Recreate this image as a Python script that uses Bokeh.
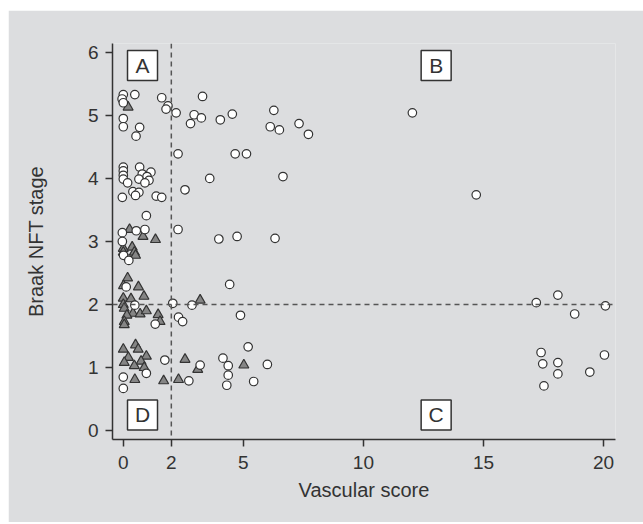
from bokeh.plotting import figure
from bokeh.models import Range1d, Span, FixedTicker
from bokeh.core.properties import value
from bokeh.embed import file_html
from bokeh.resources import INLINE

# Circles (open markers)
circle_x = [0, -0.05, 0.0, 0.48, 1.6, 1.86, 1.78, 2.2, 3.3, 2.95, 3.25, 2.8, 4.04, 4.54,
            6.27, 6.12, 6.5, 7.32, 7.71, 12.04, 0, 0, 0.68, 0.53, 2.28, 4.66, 5.13,
            0, 0, 0, 0, 0.68, 1.15, 0.79, 0.99, 0.65, 1.07, 0.9, 0.18, 0.4, 0.65, 0.51,
            -0.04, 1.37, 1.6, 3.6, 2.57, 6.65, 14.7, 0.96,
            0.54, 0.9, -0.04, 2.28, 3.98, 4.74, 6.32, -0.04, 0.01, 0.23,
            0.12, 0.48, 1.33, 2.06, 2.86, 2.3, 2.47, 4.43, 4.88, 17.2, 18.1, 18.8, 20.08,
            0.96, 0, 0, 1.73, 3.2, 2.73, 5.2, 4.15, 4.37, 6.0, 4.37, 5.43, 4.31,
            17.4, 17.47, 18.1, 18.1, 20.04, 19.43, 17.52]
circle_y = [5.33, 5.26, 5.2, 5.33, 5.28, 5.15, 5.1, 5.04, 5.3, 5.01, 4.96, 4.87, 4.93, 5.02,
            5.08, 4.82, 4.77, 4.87, 4.7, 5.04, 4.95, 4.82, 4.81, 4.67, 4.39, 4.39, 4.39,
            4.18, 4.12, 4.05, 3.99, 4.18, 4.1, 4.07, 4.03, 3.99, 3.97, 3.93, 3.93, 3.79, 3.78, 3.73,
            3.7, 3.72, 3.7, 4.0, 3.82, 4.03, 3.74, 3.41,
            3.17, 3.19, 3.14, 3.19, 3.04, 3.08, 3.05, 3.0, 2.78, 2.7,
            2.28, 1.99, 1.69, 2.02, 1.99, 1.8, 1.73, 2.32, 1.83, 2.03, 2.15, 1.85, 1.98,
            0.91, 0.85, 0.67, 1.12, 1.04, 0.79, 1.33, 1.15, 1.03, 1.05, 0.88, 0.78, 0.72,
            1.24, 1.06, 1.08, 0.9, 1.2, 0.93, 0.71]

# Triangles (filled markers)
tri_x = [0.2,
         0.26, 0.82, 1.34, 0, 0.37, 0.46, 0.51, 0,
         0.18, 0.01, 0.63, 0.86, 0, 0.32, 0, 0.04, 0.4, 0.7, 0.96, 0.15, 0.04, 0.04, 1.45, 1.53, 3.2,
         0, 0.51, 0.62, 0.21, 0.96, 0.04, 0.74, 0.46, 0.87, 0.48, 1.68, 2.57, 3.1, 2.3, 5.02]
tri_y = [5.13,
         3.19, 3.08, 3.03, 2.89, 2.91, 2.83, 2.78, 2.83,
         2.42, 2.3, 2.28, 2.13, 2.1, 2.09, 2.0, 1.94, 1.86, 1.85, 1.9, 1.83, 1.73, 1.68, 1.84, 1.73, 2.07,
         1.29, 1.36, 1.29, 1.16, 1.18, 1.08, 1.1, 1.03, 1.0, 0.81, 0.79, 1.13, 0.97, 0.81, 1.04]

x_ticks = [0, 2, 5, 10, 15, 20]
y_ticks = [0, 1, 2, 3, 4, 5, 6]
quad_labels = ["A", "B", "C", "D"]
quad_x = [0.8, 13.03, 13.03, 0.8]
quad_y = [5.79, 5.79, 0.25, 0.25]
cut_x = 2
cut_y = 2

BG = "#dcdddf"
INK = "#333333"
FONT = "Liberation Sans"

p = figure(width=635, height=512, output_backend="svg", toolbar_location=None,
           x_range=Range1d(-0.45, 20.5), y_range=Range1d(-0.14, 6.14),
           min_border_left=104, min_border_right=28, min_border_top=33, min_border_bottom=83)
p.margin = (10, 0, 2, 8)
p.background_fill_color = BG
p.border_fill_color = BG
p.outline_line_color = None
p.grid.visible = False

for ax in (p.xaxis[0], p.yaxis[0]):
    ax.axis_line_color = INK
    ax.axis_line_width = 1.5
    ax.major_tick_line_color = INK
    ax.major_tick_line_width = 1.5
    ax.major_tick_out = 7
    ax.major_tick_in = 0
    ax.minor_tick_line_color = None
    ax.major_label_text_font = FONT
    ax.major_label_text_font_size = "19px"
    ax.major_label_text_color = INK
    ax.axis_label_text_font = FONT
    ax.axis_label_text_font_size = "20px"
    ax.axis_label_text_font_style = "normal"
    ax.axis_label_text_color = INK

p.xaxis.major_label_standoff = 9
p.yaxis.major_label_standoff = 7
p.xaxis.ticker = FixedTicker(ticks=x_ticks)
p.yaxis.ticker = FixedTicker(ticks=y_ticks)
p.xaxis.axis_label = "Vascular score"
p.yaxis.axis_label = "Braak NFT stage"
p.xaxis.axis_label_standoff = 7
p.yaxis.axis_label_standoff = 38

p.add_layout(Span(location=cut_x, dimension="height", line_color="#555555",
                  line_width=1.5, line_dash="5 4"))
p.add_layout(Span(location=cut_y, dimension="width", line_color="#555555",
                  line_width=1.5, line_dash="5 4"))

p.scatter(tri_x, tri_y, marker="triangle", size=10, fill_color="#858585",
          line_color=INK, line_width=1.2)
p.scatter(circle_x, circle_y, marker="circle", size=8.5, fill_color="white",
          line_color=INK, line_width=1.2)

p.rect(quad_x, quad_y, width=30, height=30, width_units="screen", height_units="screen",
       fill_color="white", line_color=INK, line_width=1.5)
p.text(quad_x, quad_y, text=quad_labels, text_align="center", text_baseline="middle",
       text_font=value(FONT), text_font_size="21px", text_color=INK)

open("out.html", "w").write(file_html(p, INLINE))
